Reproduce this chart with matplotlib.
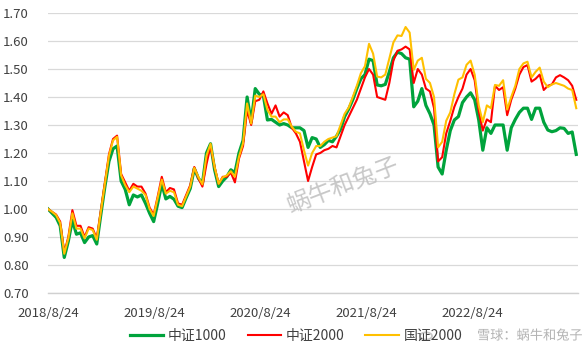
import matplotlib.pyplot as plt
import matplotlib.dates as mdates
import matplotlib.patheffects as pe
from matplotlib.patches import Circle
import pandas as pd

plt.rcParams['font.family'] = ['Noto Sans CJK SC', 'DejaVu Sans']

# biweekly net values, start 2018/8/24 = 1.00
dates = pd.date_range('2018-08-24', periods=131, freq='14D')

zz1000 = [1.00, 0.985, 0.97, 0.94, 0.827, 0.885, 0.96, 0.91, 0.915, 0.88,
          0.90, 0.905, 0.875, 0.98, 1.08, 1.17, 1.215, 1.225, 1.10, 1.07,
          1.015, 1.05, 1.043, 1.05, 1.02, 0.985, 0.955, 1.02, 1.09, 1.036,
          1.045, 1.035, 1.01, 1.005, 1.04, 1.073, 1.145, 1.11, 1.09, 1.20,
          1.233, 1.14, 1.08, 1.10, 1.115, 1.14, 1.13, 1.20, 1.245, 1.40,
          1.31, 1.43, 1.41, 1.405, 1.318, 1.32, 1.31, 1.30, 1.305, 1.30,
          1.29, 1.29, 1.29, 1.28, 1.22, 1.255, 1.25, 1.22, 1.23, 1.245,
          1.24, 1.26, 1.285, 1.33, 1.357, 1.39, 1.43, 1.465, 1.48, 1.535,
          1.53, 1.443, 1.44, 1.445, 1.49, 1.54, 1.56, 1.555, 1.54, 1.535,
          1.365, 1.385, 1.43, 1.37, 1.34, 1.30, 1.15, 1.125, 1.21, 1.28,
          1.318, 1.33, 1.38, 1.40, 1.415, 1.39, 1.318, 1.21, 1.29, 1.27,
          1.30, 1.30, 1.30, 1.21, 1.29, 1.32, 1.345, 1.36, 1.36, 1.32,
          1.36, 1.36, 1.31, 1.282, 1.276, 1.28, 1.29, 1.288, 1.27, 1.275,
          1.195]

zz2000 = [1.00, 0.99, 0.98, 0.955, 0.845, 0.90, 0.996, 0.94, 0.94, 0.90,
          0.935, 0.93, 0.895, 0.995, 1.095, 1.195, 1.25, 1.262, 1.125, 1.095,
          1.065, 1.09, 1.08, 1.08, 1.055, 1.005, 0.98, 1.045, 1.115, 1.06,
          1.075, 1.07, 1.02, 1.015, 1.05, 1.085, 1.15, 1.11, 1.08, 1.16,
          1.225, 1.15, 1.09, 1.115, 1.115, 1.13, 1.095, 1.18, 1.225, 1.353,
          1.30, 1.385, 1.39, 1.42, 1.377, 1.34, 1.37, 1.33, 1.345, 1.335,
          1.29, 1.27, 1.24, 1.17, 1.10, 1.15, 1.195, 1.20, 1.21, 1.215,
          1.225, 1.22, 1.26, 1.30, 1.33, 1.36, 1.39, 1.43, 1.47, 1.50,
          1.48, 1.40, 1.395, 1.39, 1.45, 1.53, 1.565, 1.57, 1.58, 1.57,
          1.45, 1.50, 1.48, 1.43, 1.42, 1.36, 1.17, 1.185, 1.27, 1.315,
          1.365, 1.40, 1.43, 1.48, 1.50, 1.46, 1.35, 1.28, 1.32, 1.31,
          1.44, 1.425, 1.435, 1.335, 1.39, 1.43, 1.48, 1.507, 1.514, 1.455,
          1.465, 1.48, 1.425, 1.44, 1.445, 1.47, 1.478, 1.47, 1.46, 1.44,
          1.39]

gz2000 = [1.00, 0.99, 0.978, 0.95, 0.84, 0.895, 0.985, 0.93, 0.93, 0.895,
          0.93, 0.925, 0.89, 0.99, 1.09, 1.19, 1.245, 1.258, 1.12, 1.085,
          1.06, 1.08, 1.073, 1.065, 1.05, 1.00, 0.975, 1.04, 1.105, 1.055,
          1.065, 1.06, 1.015, 1.01, 1.045, 1.08, 1.147, 1.114, 1.088, 1.19,
          1.233, 1.15, 1.09, 1.113, 1.12, 1.135, 1.115, 1.187, 1.235, 1.377,
          1.305, 1.405, 1.40, 1.41, 1.354, 1.33, 1.33, 1.31, 1.32, 1.32,
          1.294, 1.276, 1.27, 1.21, 1.155, 1.20, 1.225, 1.225, 1.24, 1.25,
          1.255, 1.26, 1.30, 1.34, 1.362, 1.40, 1.44, 1.485, 1.51, 1.59,
          1.555, 1.473, 1.47, 1.48, 1.538, 1.595, 1.62, 1.618, 1.65, 1.63,
          1.497, 1.53, 1.54, 1.465, 1.45, 1.40, 1.22, 1.24, 1.315, 1.345,
          1.41, 1.462, 1.47, 1.515, 1.53, 1.48, 1.37, 1.31, 1.37, 1.36,
          1.443, 1.44, 1.46, 1.355, 1.40, 1.44, 1.50, 1.52, 1.526, 1.47,
          1.49, 1.505, 1.455, 1.435, 1.445, 1.45, 1.445, 1.44, 1.43, 1.425,
          1.36]

tick_dates = ['2018-08-24', '2019-08-24', '2020-08-24', '2021-08-24', '2022-08-24']
tick_labels = ['2018/8/24', '2019/8/24', '2020/8/24', '2021/8/24', '2022/8/24']
y_ticks = [0.70, 0.80, 0.90, 1.00, 1.10, 1.20, 1.30, 1.40, 1.50, 1.60, 1.70]

W, H = 586, 352
fig = plt.figure(figsize=(W / 100, H / 100), dpi=100)
ax = fig.add_axes([48 / W, 1 - 293 / H, 530 / W, 280 / H])

ax.plot(dates, zz1000, color='#00a33c', lw=2.3, label='中证1000', solid_joinstyle='round')
ax.plot(dates, zz2000, color='#ff0000', lw=1.5, label='中证2000', solid_joinstyle='round')
ax.plot(dates, gz2000, color='#ffc000', lw=1.5, label='国证2000', solid_joinstyle='round')

ax.set_xlim(pd.Timestamp('2018-08-24'), pd.Timestamp('2023-08-24'))
ax.set_ylim(0.70, 1.70)
ax.set_yticks(y_ticks)
ax.set_yticklabels([f'{v:.2f}' for v in y_ticks])
ax.set_xticks([pd.Timestamp(d) for d in tick_dates])
ax.set_xticklabels(tick_labels)

ax.grid(axis='y', color='#d9d9d9', lw=0.9)
ax.set_axisbelow(True)
for s in ['left', 'right', 'top']:
    ax.spines[s].set_visible(False)
ax.spines['bottom'].set_color('#d0d0d0')
ax.spines['bottom'].set_linewidth(1.0)
ax.tick_params(axis='both', length=0, labelsize=9.5, colors='#404040')
ax.tick_params(axis='y', pad=14)
ax.tick_params(axis='x', pad=10)

leg = fig.legend(loc='center', bbox_to_anchor=(296 / W, 1 - 336 / H), ncol=3, frameon=False,
                 fontsize=10, handlelength=2.4, handletextpad=0.35, columnspacing=1.5)
for t in leg.get_texts():
    t.set_color('#404040')

# watermarks
fig.text(343 / W, 1 - 187 / H, '蜗牛和兔子', fontsize=17, color='#bfbfbf', alpha=0.85,
         rotation=21, ha='center', va='center')
fig.text(583 / W, 1 - 336 / H, '雪球：蜗牛和兔子', fontsize=9.5, color='#b3b3b3',
         ha='right', va='center',
         path_effects=[pe.withStroke(linewidth=2.5, foreground='white')])
fig.patches.append(Circle((426 / W, 1 - 336 / H), 6 / W, transform=fig.transFigure,
                          fill=False, ec='#c8c8c8', lw=1.3))

fig.savefig('out.png', dpi=100)
